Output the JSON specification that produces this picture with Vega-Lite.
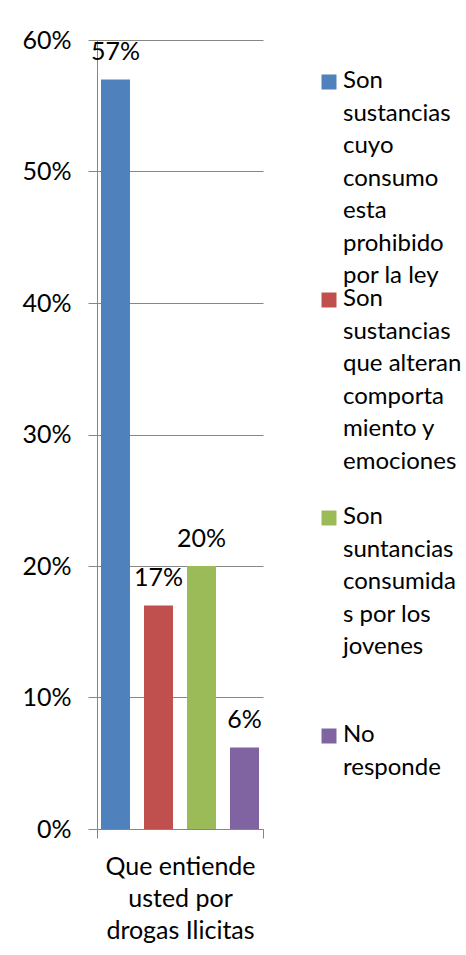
{
  "$schema": "https://vega.github.io/schema/vega-lite/v6.json",
  "autosize": "none",
  "width": 166,
  "height": 789,
  "padding": {"left": 97, "top": 40, "right": 203, "bottom": 126},
  "background": "white",
  "config": {
    "font": "Lato",
    "view": {"stroke": null},
    "axis": {"labelFont": "Lato", "labelFontSize": 25, "labelColor": "black", "domainColor": "#868686", "tickColor": "#868686", "gridColor": "#868686"}
  },
  "data": {
    "values": [
      {"pregunta": "Que entiende usted por drogas Ilicitas", "respuesta": "Son sustancias cuyo consumo esta prohibido por la ley", "valor": 0.57},
      {"pregunta": "Que entiende usted por drogas Ilicitas", "respuesta": "Son sustancias que alteran comportamiento y emociones", "valor": 0.17},
      {"pregunta": "Que entiende usted por drogas Ilicitas", "respuesta": "Son suntancias consumidas por los jovenes", "valor": 0.20},
      {"pregunta": "Que entiende usted por drogas Ilicitas", "respuesta": "No responde", "valor": 0.062}
    ]
  },
  "encoding": {
    "x": {
      "field": "pregunta", "type": "nominal",
      "scale": {"paddingInner": 0, "paddingOuter": 0},
      "axis": {"title": null, "labelAngle": 0, "tickBand": "extent", "tickSize": 9, "labelPadding": 16, "labelLineHeight": 32, "labelBaseline": "top", "labelFlush": false,
        "labelExpr": "datum.extra ? '' : ['Que entiende', 'usted por', 'drogas Ilicitas']"}
    },
    "xOffset": {
      "field": "respuesta", "type": "nominal",
      "sort": ["Son sustancias cuyo consumo esta prohibido por la ley", "Son sustancias que alteran comportamiento y emociones", "Son suntancias consumidas por los jovenes", "No responde"],
      "scale": {"paddingInner": 0.326, "paddingOuter": 0.093}
    },
    "y": {
      "field": "valor", "type": "quantitative",
      "scale": {"domain": [0, 0.6], "nice": false},
      "axis": {"title": null, "values": [0, 0.1, 0.2, 0.3, 0.4, 0.5, 0.6], "format": ".0%", "tickSize": 9, "labelPadding": 17, "grid": true, "domain": true}
    }
  },
  "layer": [
    {
      "mark": {"type": "bar"},
      "encoding": {
        "color": {
          "field": "respuesta", "type": "nominal",
          "sort": ["Son sustancias cuyo consumo esta prohibido por la ley", "Son sustancias que alteran comportamiento y emociones", "Son suntancias consumidas por los jovenes", "No responde"],
          "scale": {"range": ["#4F81BD", "#C0504D", "#9BBB59", "#8064A2"]},
          "legend": {
            "title": null, "orient": "none", "legendX": 220, "legendY": 30,
            "padding": 0, "symbolType": "square", "symbolSize": 225, "symbolStrokeWidth": 0,
            "symbolOffset": 0,
            "labelFont": "Lato", "labelFontSize": 24, "labelColor": "black", "labelOffset": 2, "labelLimit": 300,
            "gridAlign": "all", "rowPadding": -8, "labelBaseline": "top",
            "labelExpr": "{'Son sustancias cuyo consumo esta prohibido por la ley': ['Son', 'sustancias', 'cuyo', 'consumo', 'esta', 'prohibido', 'por la ley'], 'Son sustancias que alteran comportamiento y emociones': ['Son', 'sustancias', 'que alteran', 'comporta', 'miento y', 'emociones'], 'Son suntancias consumidas por los jovenes': ['Son', 'suntancias', 'consumida', 's por los', 'jovenes'], 'No responde': ['No', 'responde']}[datum.label]",
            "encode": {"labels": {"update": {"dy": {"value": -13}, "lineHeight": {"value": 32.5}}}}
          }
        }
      }
    },
    {
      "mark": {"type": "text", "baseline": "alphabetic", "dy": -19, "fontSize": 25, "font": "Lato", "color": "black"},
      "encoding": {
        "text": {"field": "valor", "type": "quantitative", "format": ".0%"}
      }
    }
  ]
}
